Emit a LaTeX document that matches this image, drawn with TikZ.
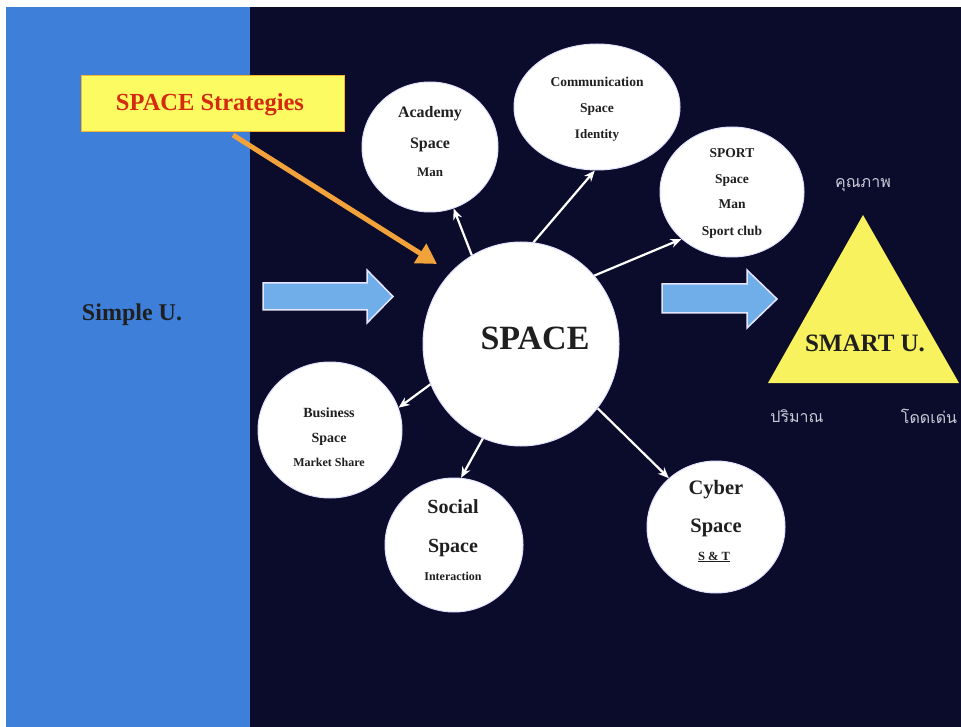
\documentclass[tikz,border=0pt]{standalone}
\usepackage{fontspec}
\setmainfont{Liberation Serif}
\newfontfamily\thaifont[Script=Thai]{Loma}
\usetikzlibrary{shapes.geometric,arrows.meta}
\definecolor{panelblue}{HTML}{3D7FD9}
\definecolor{navybg}{HTML}{0B0C2C}
\definecolor{arrowblue}{HTML}{6FAEE8}
\definecolor{stratyellow}{HTML}{FCFC62}
\definecolor{stratred}{HTML}{D42A10}
\definecolor{orangearrow}{HTML}{F2A23A}
\definecolor{triyellow}{HTML}{F8F25E}
\definecolor{thaigray}{HTML}{CACAD6}
\newcommand\myfs[1]{\fontsize{#1}{#1}\selectfont\bfseries}
\tikzset{
  bubble/.style={ellipse, fill=white, draw=white!88!blue, line width=1pt, inner sep=0pt},
  txt/.style={inner sep=0pt, anchor=base, text=black!88},
  conn/.style={draw=white, line width=2.2pt, -{Stealth[length=11pt,width=9pt]}},
  blockarrow/.style={fill=arrowblue, draw=white!90!blue, line width=1.5pt, line join=miter},
  thai/.style={inner sep=0pt, text=thaigray, font=\thaifont\fontsize{16}{16}\selectfont}
}
\begin{document}
\begin{tikzpicture}[x=1pt,y=-1pt]
\useasboundingbox (0,0) rectangle (961,727);
\fill[white] (0,0) rectangle (961,727);
\fill[panelblue] (6,7) rectangle (250,727);
\fill[navybg] (250,7) rectangle (961,727);

% left text
\node[txt, font=\myfs{24}] (simple) at (132,320) {Simple U.};

% strategies box
\node[fill=stratyellow, draw=orangearrow!80!yellow, line width=0.8pt, minimum width=263pt, minimum height=56pt, inner sep=0pt] (strat) at (212.5,103) {};
\node[txt, text=stratred, font=\myfs{24.5}] (stratt) at (210,111) {SPACE Strategies};
\coordinate (ostart) at (233,135);
\coordinate (oend) at (437,264);
\draw[orangearrow, line width=5pt, -{Triangle[length=20pt,width=22pt]}] (ostart) -- (oend);

% block arrows
\draw[blockarrow] (263,283) -- (367,283) -- (367,270) -- (393,296.5) -- (367,323) -- (367,310) -- (263,310) -- cycle;
\draw[blockarrow] (662,284) -- (747,284) -- (747,270) -- (777,299) -- (747,328) -- (747,313) -- (662,313) -- cycle;

% bubbles
\node[bubble, minimum width=196pt, minimum height=204pt] (space) at (521,344) {};
\node[txt, font=\myfs{34}] (spacet) at (535,349) {SPACE};

\node[bubble, minimum width=136pt, minimum height=130pt] (academy) at (430,147) {};
\node[txt, font=\myfs{16}] (academy1) at (430,118) {Academy};
\node[txt, font=\myfs{16}] (academy2) at (430,149) {Space};
\node[txt, font=\myfs{13}] (academy3) at (430,177) {Man};

\node[bubble, minimum width=166pt, minimum height=126pt] (comm) at (597,107) {};
\node[txt, font=\myfs{13.5}] (comm1) at (597,87) {Communication};
\node[txt, font=\myfs{13.5}] (comm2) at (597,113) {Space};
\node[txt, font=\myfs{13}] (comm3) at (597,139) {Identity};

\node[bubble, minimum width=144pt, minimum height=130pt] (sport) at (732,192) {};
\node[txt, font=\myfs{13.5}] (sport1) at (732,158) {SPORT};
\node[txt, font=\myfs{13.5}] (sport2) at (732,184) {Space};
\node[txt, font=\myfs{13.5}] (sport3) at (732,209) {Man};
\node[txt, font=\myfs{13.5}] (sport4) at (732,236) {Sport club};

\node[bubble, minimum width=144pt, minimum height=136pt] (business) at (330,430) {};
\node[txt, font=\myfs{14}] (business1) at (329,417) {Business};
\node[txt, font=\myfs{14}] (business2) at (329,442) {Space};
\node[txt, font=\myfs{12}] (business3) at (329,466) {Market Share};

\node[bubble, minimum width=138pt, minimum height=134pt] (social) at (454,545) {};
\node[txt, font=\myfs{20}] (social1) at (453,513) {Social};
\node[txt, font=\myfs{20}] (social2) at (453,552) {Space};
\node[txt, font=\myfs{12}] (social3) at (453,580) {Interaction};

\node[bubble, minimum width=138pt, minimum height=132pt] (cyber) at (716,527) {};
\node[txt, font=\myfs{20.5}] (cyber1) at (716,494) {Cyber};
\node[txt, font=\myfs{20.5}] (cyber2) at (716,532) {Space};
\node[txt, font=\myfs{12.5}] (cyber3) at (714,560) {\underline{S \& T}};

% connectors
\draw[conn] (space.119) -- (academy.-69);
\draw[conn] (space.83) -- (comm.-92);
\draw[conn] (space.43) -- (sport.223);
\draw[conn] (space.204) -- (business.18);
\draw[conn] (space.248) -- (social.84);
\draw[conn] (space.-40) -- (cyber.134);

% triangle
\coordinate (apex) at (863,215);
\coordinate (bl) at (768,383);
\coordinate (br) at (959,383);
\fill[triyellow] (apex) -- (br) -- (bl) -- cycle;
\node[txt, font=\myfs{25}] (smart) at (865,352) {SMART U.};
\node[thai] (quality) at (863,185) {คุณภาพ};
\node[thai] (quantity) at (797,416) {ปริมาณ};
\node[thai] (outstanding) at (929,416) {โดดเด่น};
\end{tikzpicture}
\end{document}
